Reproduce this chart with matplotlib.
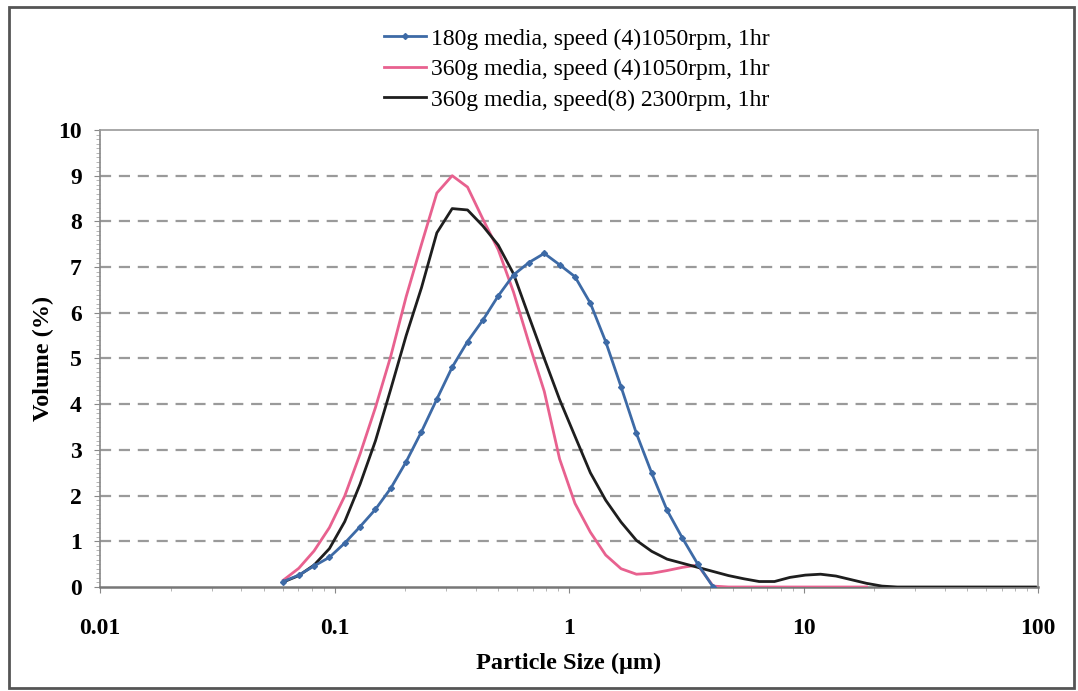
import numpy as np
import matplotlib
matplotlib.use('Agg')
import matplotlib.pyplot as plt
from matplotlib.ticker import LogLocator, MultipleLocator, NullFormatter, FixedLocator
from matplotlib.patches import Rectangle

plt.rcParams['font.family'] = ['Liberation Serif', 'DejaVu Serif']

# particle size bins (um)
size_um = [0.0605, 0.0704, 0.0818, 0.0951, 0.1105, 0.1285, 0.1495, 0.1737,
           0.2020, 0.2349, 0.2731, 0.3175, 0.3692, 0.4292, 0.4991, 0.5802,
           0.6745, 0.7843, 0.9119, 1.060, 1.233, 1.433, 1.667, 1.938,
           2.253, 2.619, 3.045, 3.541, 4.117, 4.786, 5.565, 6.470,
           7.520, 8.746, 10.17, 11.82, 13.75, 15.98, 18.58, 21.61,
           25.12, 29.21, 33.96, 39.49, 45.91, 53.38, 62.06, 72.16,
           83.89, 97.52]

vol_180_4 = [0.12, 0.26, 0.46, 0.65, 0.96, 1.32, 1.70, 2.16, 2.74, 3.40,
             4.11, 4.81, 5.37, 5.84, 6.37, 6.83, 7.10, 7.30, 7.05, 6.79,
             6.21, 5.37, 4.38, 3.36, 2.49, 1.68, 1.07, 0.50, 0.0]

vol_360_4 = [0.15, 0.41, 0.79, 1.30, 1.99, 2.91, 3.93, 5.05, 6.35, 7.50,
             8.62, 9.00, 8.75, 8.05, 7.38, 6.45, 5.34, 4.28, 2.80, 1.83,
             1.20, 0.70, 0.40, 0.28, 0.30, 0.36, 0.43, 0.48, 0.02, 0.0,
             0.0, 0.0, 0.0, 0.0, 0.0, 0.0, 0.0, 0.0, 0.0]

vol_360_8 = [0.11, 0.25, 0.48, 0.84, 1.43, 2.25, 3.20, 4.33, 5.50, 6.55,
             7.75, 8.28, 8.25, 7.90, 7.48, 6.85, 5.92, 5.00, 4.10, 3.30,
             2.50, 1.90, 1.42, 1.02, 0.78, 0.61, 0.52, 0.43, 0.34, 0.25,
             0.18, 0.12, 0.12, 0.21, 0.26, 0.28, 0.24, 0.16, 0.08, 0.02,
             0.0, 0.0, 0.0, 0.0, 0.0, 0.0, 0.0, 0.0, 0.0, 0.0]

labels = ['180g media, speed (4)1050rpm, 1hr',
          '360g media, speed (4)1050rpm, 1hr',
          '360g media, speed(8) 2300rpm, 1hr']

fig = plt.figure(figsize=(10.78, 6.91), dpi=100)
ax = fig.add_axes([0.0928, 0.1505, 0.8701, 0.6614])

x = np.array(size_um)
ax.plot(x[:len(vol_180_4)], vol_180_4, color='#3d6aa6', lw=2, marker='D',
        ms=3, label=labels[0], zorder=4)
ax.plot(x[:len(vol_360_4)], vol_360_4, color='#e8618f', lw=2,
        label=labels[1], zorder=3)
ax.plot(x[:len(vol_360_8)], vol_360_8, color='#1e1e1e', lw=2,
        label=labels[2], zorder=3)

ax.set_xscale('log')
ax.set_xlim(0.01, 100)
ax.set_ylim(0, 10)

ax.xaxis.set_major_locator(FixedLocator([0.01, 0.1, 1, 10, 100]))
ax.set_xticklabels(['0.01', '0.1', '1', '10', '100'])
ax.xaxis.set_minor_locator(LogLocator(base=10, subs=np.arange(2, 10)))
ax.xaxis.set_minor_formatter(NullFormatter())
ax.yaxis.set_major_locator(MultipleLocator(1))
ax.yaxis.set_minor_locator(MultipleLocator(0.1))

for yv in range(1, 10):
    ax.axhline(yv, color='#9a9a9a', lw=1.6, ls=(0, (5, 3.5)), zorder=1)

for s in ax.spines.values():
    s.set_color('#9a9a9a')
    s.set_linewidth(1.2)
ax.spines['left'].set_color('#888888')
ax.spines['bottom'].set_color('#777777')
ax.spines['bottom'].set_linewidth(1.8)

ax.tick_params(axis='both', which='major', direction='out', length=4,
               color='#888888', labelsize=17)
ax.tick_params(axis='both', which='minor', direction='out', length=3,
               color='#aaaaaa')
ax.tick_params(axis='x', which='major', pad=18)
ax.tick_params(axis='y', which='major', pad=9)
for t in ax.get_xticklabels() + ax.get_yticklabels():
    t.set_fontweight('bold')

ax.set_xlabel('Particle Size (μm)', fontsize=17.5, fontweight='bold', labelpad=10)
ax.set_ylabel('Volume (%)', fontsize=17.5, fontweight='bold', labelpad=3)

fig.legend(loc='upper center', bbox_to_anchor=(0.535, 0.973), frameon=False,
           fontsize=17, handlelength=1.8, handletextpad=0.2, labelspacing=0.38,
           borderaxespad=0)

fig.patches.append(Rectangle((0.008, 0.005), 0.988, 0.985, transform=fig.transFigure,
                             fill=False, edgecolor='#555555', lw=2))

fig.savefig('out.png', dpi=100)
